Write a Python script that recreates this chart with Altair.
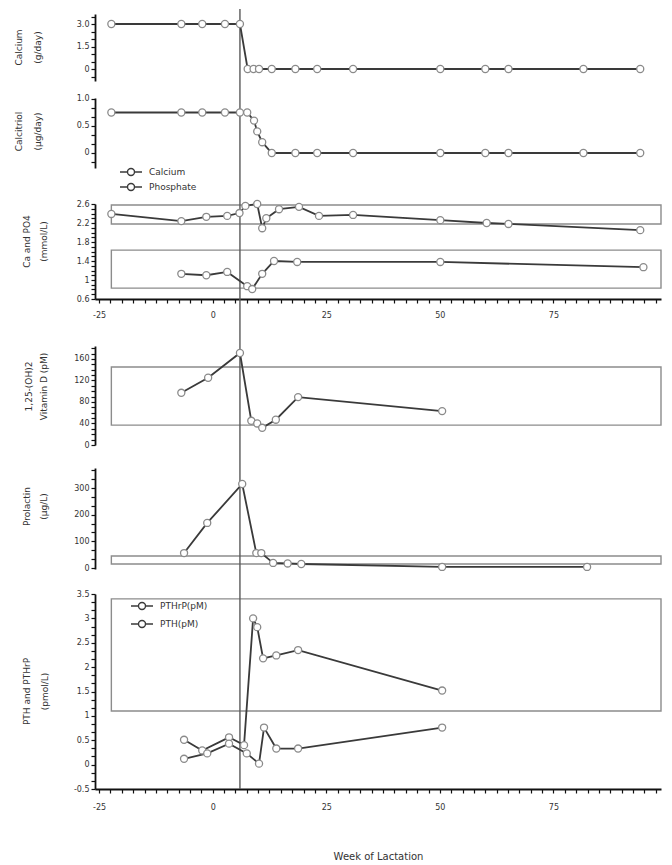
import altair as alt
import pandas as pd

# ---------------- values ----------------
# Calcium supplement (g/day)
supp_ca_weeks = [-22.3, -6.9, -2.3, 2.7, 6.0, 7.7, 9.0, 10.2, 13.0, 18.2, 23.0, 30.9, 50.1, 60.0, 65.1, 81.6, 94.1]
supp_ca_vals = [3.0, 3.0, 3.0, 3.0, 3.0, 0, 0, 0, 0, 0, 0, 0, 0, 0, 0, 0, 0]

# Calcitriol (ug/day)
calcitriol_weeks = [-22.3, -6.9, -2.3, 2.7, 6.0, 7.6, 9.1, 9.8, 10.9, 13.0, 18.2, 23.0, 30.9, 50.1, 60.0, 65.1, 81.6, 94.1]
calcitriol_vals = [0.75, 0.75, 0.75, 0.75, 0.75, 0.75, 0.6, 0.4, 0.2, 0, 0, 0, 0, 0, 0, 0, 0, 0]

# Serum calcium / phosphate (mmol/L)
ca_weeks = [-22.3, -6.9, -1.4, 3.2, 5.9, 7.2, 9.8, 10.9, 11.8, 14.6, 19.0, 23.4, 30.9, 50.1, 60.3, 65.1, 94.1]
ca_vals = [2.39, 2.24, 2.33, 2.35, 2.41, 2.56, 2.60, 2.09, 2.30, 2.49, 2.54, 2.35, 2.37, 2.26, 2.20, 2.18, 2.05]
po4_weeks = [-6.9, -1.4, 3.2, 7.6, 8.7, 10.9, 13.5, 18.6, 50.1, 94.8]
po4_vals = [1.13, 1.10, 1.17, 0.87, 0.81, 1.13, 1.40, 1.38, 1.38, 1.27]

# 1,25-(OH)2 vitamin D (pM)
vitd_weeks = [-6.9, -1.0, 6.0, 8.5, 9.8, 10.9, 13.9, 18.8, 50.5]
vitd_vals = [97, 125, 171, 45, 40, 32, 47, 89, 63]

# Prolactin (ug/L)
prl_weeks = [-6.3, -1.2, 6.5, 9.6, 10.7, 13.3, 16.5, 19.5, 50.5, 82.4]
prl_vals = [56, 169, 315, 56, 56, 19, 17, 15, 4, 4]

# PTHrP and PTH (pmol/L)
pthrp_weeks = [-6.3, -2.3, 3.6, 6.9, 8.9, 9.8, 11.1, 14.0, 18.8, 50.5]
pthrp_vals = [0.51, 0.29, 0.56, 0.40, 3.00, 2.82, 2.18, 2.24, 2.35, 1.52]
pth_weeks = [-6.3, -1.2, 3.6, 7.5, 10.2, 11.3, 14.0, 18.8, 50.5]
pth_vals = [0.12, 0.23, 0.43, 0.23, 0.02, 0.76, 0.33, 0.33, 0.76]

# reference ranges (lo, hi)
ca_range = (2.18, 2.58)
po4_range = (0.83, 1.63)
vitd_range = (37, 145)
prl_range = (15, 45)
pth_range = (1.1, 3.4)

delivery_week = [6.0]

series_ca_names = ["Calcium", "Phosphate"]
series_pth_names = ["PTHrP(pM)", "PTH(pM)"]

# ---------------- styling ----------------
FONT = "DejaVu Sans"
W = 566
X_DOMAIN = [-25.9, 98.67]          # the original axis runs to 100 but is cut at the picture's edge
range_weeks = (-22.3, X_DOMAIN[1])
X_TICKS = [-25 + 2.5 * i for i in range(50)]
LINE_COLOR = "#3a3a3a"
PT_STROKE = "#8a8a8a"
BOX_COLOR = "#8c8c8c"
RULE_COLOR = "#5a5a5a"
NO_VIEW = alt.ViewBackground(stroke="transparent", strokeWidth=0)

axis_style = dict(
    domainColor="#111", domainWidth=1.8, tickColor="#111", tickWidth=1.2, tickSize=4,
    labelFont=FONT, labelFontSize=8, labelColor="#333", labelOverlap=False, labelFlush=False,
    grid=False, titleFont=FONT, titleFontSize=9, titleFontWeight="normal", titleColor="#333",
)

X_LABEL_EXPR = "(datum.value % 25 == 0) ? '' + datum.value : ''"


def x_axis(title=None, label_pad=8, title_pad=41):
    kw = dict(values=X_TICKS, labelExpr=X_LABEL_EXPR, labelPadding=label_pad, **axis_style)
    if title is not None:
        kw.update(title=title, titleFontSize=10, titlePadding=title_pad)
    else:
        kw.update(title=None)
    return alt.Axis(**kw)


def x_enc(axis):
    return alt.X("week:Q", scale=alt.Scale(domain=X_DOMAIN, nice=False, zero=False), axis=axis)


def y_axis(values, expr, title, tx, ty, lh=17):
    return alt.Axis(values=values, labelExpr=expr, title=title, titleX=tx, titleY=ty,
                    titleLineHeight=lh, labelPadding=2, **axis_style)


SYM_PATH = "M-2.2,0L-0.7,0M0.7,0L2.2,0M0.7,0A0.7,0.7,0,1,1,-0.7,0A0.7,0.7,0,1,1,0.7,0Z"


def legend_at(lx, ly, row_pad):
    return alt.Legend(orient="none", legendX=lx, legendY=ly, title=None, symbolType=SYM_PATH,
                      symbolSize=100, symbolStrokeColor="#555", symbolStrokeWidth=1.4,
                      symbolFillColor="white", labelFont=FONT, labelFontSize=9, labelColor="#333",
                      labelOffset=12, rowPadding=row_pad, padding=0)


def make_panel(h, ydom, yax, gap_above, series, boxes=None, xaxis=None, legend=None):
    def Y(field):
        return alt.Y(f"{field}:Q", scale=alt.Scale(domain=ydom, nice=False, zero=False), axis=yax)

    layers = []
    if boxes:
        bdf = pd.DataFrame({
            "week": [range_weeks[0]] * len(boxes),
            "week2": [range_weeks[1]] * len(boxes),
            "lo": [b[0] for b in boxes],
            "hi": [b[1] for b in boxes],
        })
        layers.append(
            alt.Chart(bdf).mark_rect(filled=False, color=BOX_COLOR, strokeWidth=1.4).encode(
                x=x_enc(xaxis), x2="week2:Q", y=Y("lo"), y2="hi:Q")
        )
    rows = []
    for name, wk, vals in series:
        rows += [{"week": w, "value": v, "series": name} for w, v in zip(wk, vals)]
    df = pd.DataFrame(rows)
    if legend is not None:
        color = alt.Color("series:N",
                          scale=alt.Scale(domain=[s[0] for s in series], range=[LINE_COLOR] * len(series)),
                          legend=legend)
        line = alt.Chart(df).mark_line(strokeWidth=1.8).encode(x=x_enc(xaxis), y=Y("value"), color=color)
    else:
        line = alt.Chart(df).mark_line(strokeWidth=1.8, color=LINE_COLOR).encode(
            x=x_enc(xaxis), y=Y("value"), detail="series:N")
    pts = alt.Chart(df).mark_point(shape="circle", filled=True, fill="white", stroke=PT_STROKE,
                                   strokeWidth=1.3, size=50, opacity=1).encode(
        x=x_enc(xaxis), y=Y("value"))
    rule = alt.Chart(pd.DataFrame({"week": delivery_week})).mark_rule(
        color=RULE_COLOR, strokeWidth=1.4).encode(
        x=x_enc(xaxis), y=alt.value(-gap_above), y2=alt.value(h))
    layers += [rule, line, pts]
    return alt.layer(*layers).properties(width=W, height=h, view=NO_VIEW)


def spacer(h):
    return alt.Chart(pd.DataFrame({"week": [0]})).mark_point(opacity=0).encode(
        x=alt.X("week:Q", axis=None)).properties(width=W, height=h, view=NO_VIEW)


def in_list(lst):
    return "indexof([" + ",".join(str(v) for v in lst) + "], datum.value) >= 0 ? '' + datum.value : ''"


# panel 1: calcium supplement
p1 = make_panel(
    67, [-0.8, 3.667],
    y_axis([round(-0.5 + 0.5 * k, 4) for k in range(9)],
           "datum.value == 0 ? '0' : (datum.value == 1.5 || datum.value == 3) ? format(datum.value, '.1f') : ''",
           ["Calcium", "(g/day)"], -72, 33, lh=19),
    5, [("s", supp_ca_weeks, supp_ca_vals)])

# panel 2: calcitriol
p2 = make_panel(
    70, [-0.278, 1.0185],
    y_axis([round(k / 6, 4) for k in range(-1, 7)],
           "datum.value == 0 ? '0' : (datum.value == 0.5 || datum.value == 1) ? format(datum.value, '.1f') : ''",
           ["Calcitriol", "(\u00b5g/day)"], -72, 33, lh=19),
    17, [("s", calcitriol_weeks, calcitriol_vals)])

# panel 3: serum Ca and PO4
p3 = make_panel(
    95, [0.6, 2.6],
    y_axis([round(0.6 + 0.1 * k, 4) for k in range(21)], in_list([0.6, 1, 1.4, 1.8, 2.2, 2.6]),
           ["Ca and PO4", "(mmol/L)"], -64, 37, lh=17),
    36,
    [(series_ca_names[0], ca_weeks, ca_vals), (series_ca_names[1], po4_weeks, po4_vals)],
    boxes=[ca_range, po4_range], xaxis=x_axis(label_pad=8),
    legend=legend_at(30, -38, 1))

# panel 4: 1,25-(OH)2 vitamin D
p4 = make_panel(
    99, [0, 184],
    y_axis([10 * k for k in range(19)], "datum.value % 40 == 0 ? '' + datum.value : ''",
           ["1,25-(OH)2", "Vitamin D (pM)"], -62, 40, lh=15),
    47, [("s", vitd_weeks, vitd_vals)], boxes=[vitd_range])

# panel 5: prolactin
p5 = make_panel(
    101, [-3.75, 375],
    y_axis([round(k * 100 / 3, 4) for k in range(12)], in_list([0, 100, 200, 300]),
           ["Prolactin", "(\u00b5g/L)"], -64, 38, lh=17),
    23, [("s", prl_weeks, prl_vals)], boxes=[prl_range])

# panel 6: PTHrP and PTH
p6 = make_panel(
    195, [-0.5, 3.5],
    y_axis([round(k / 6, 4) for k in range(-3, 22)], in_list([-0.5, 0, 0.5, 1, 1.5, 2, 2.5, 3, 3.5]),
           ["PTH and PTHrP", "(pmol/L)"], -64, 97, lh=18),
    25,
    [(series_pth_names[0], pthrp_weeks, pthrp_vals), (series_pth_names[1], pth_weeks, pth_vals)],
    boxes=[pth_range], xaxis=x_axis(title="Week of Lactation", label_pad=10, title_pad=40),
    legend=legend_at(41, 6, 4))

chart = alt.vconcat(
    p1, spacer(17), p2, spacer(36), p3, spacer(47), p4, spacer(23), p5, spacer(25), p6,
    spacing=0, bounds="flush",
).resolve_scale(x="independent", y="independent", color="independent").resolve_legend(
    color="independent"
).properties(
    padding={"left": 6, "top": 0, "right": 0, "bottom": 0}
).configure_view(stroke="transparent", strokeWidth=0).configure(font=FONT, background="white")

chart.save("out.html", embed_options={"renderer": "svg", "actions": False})
